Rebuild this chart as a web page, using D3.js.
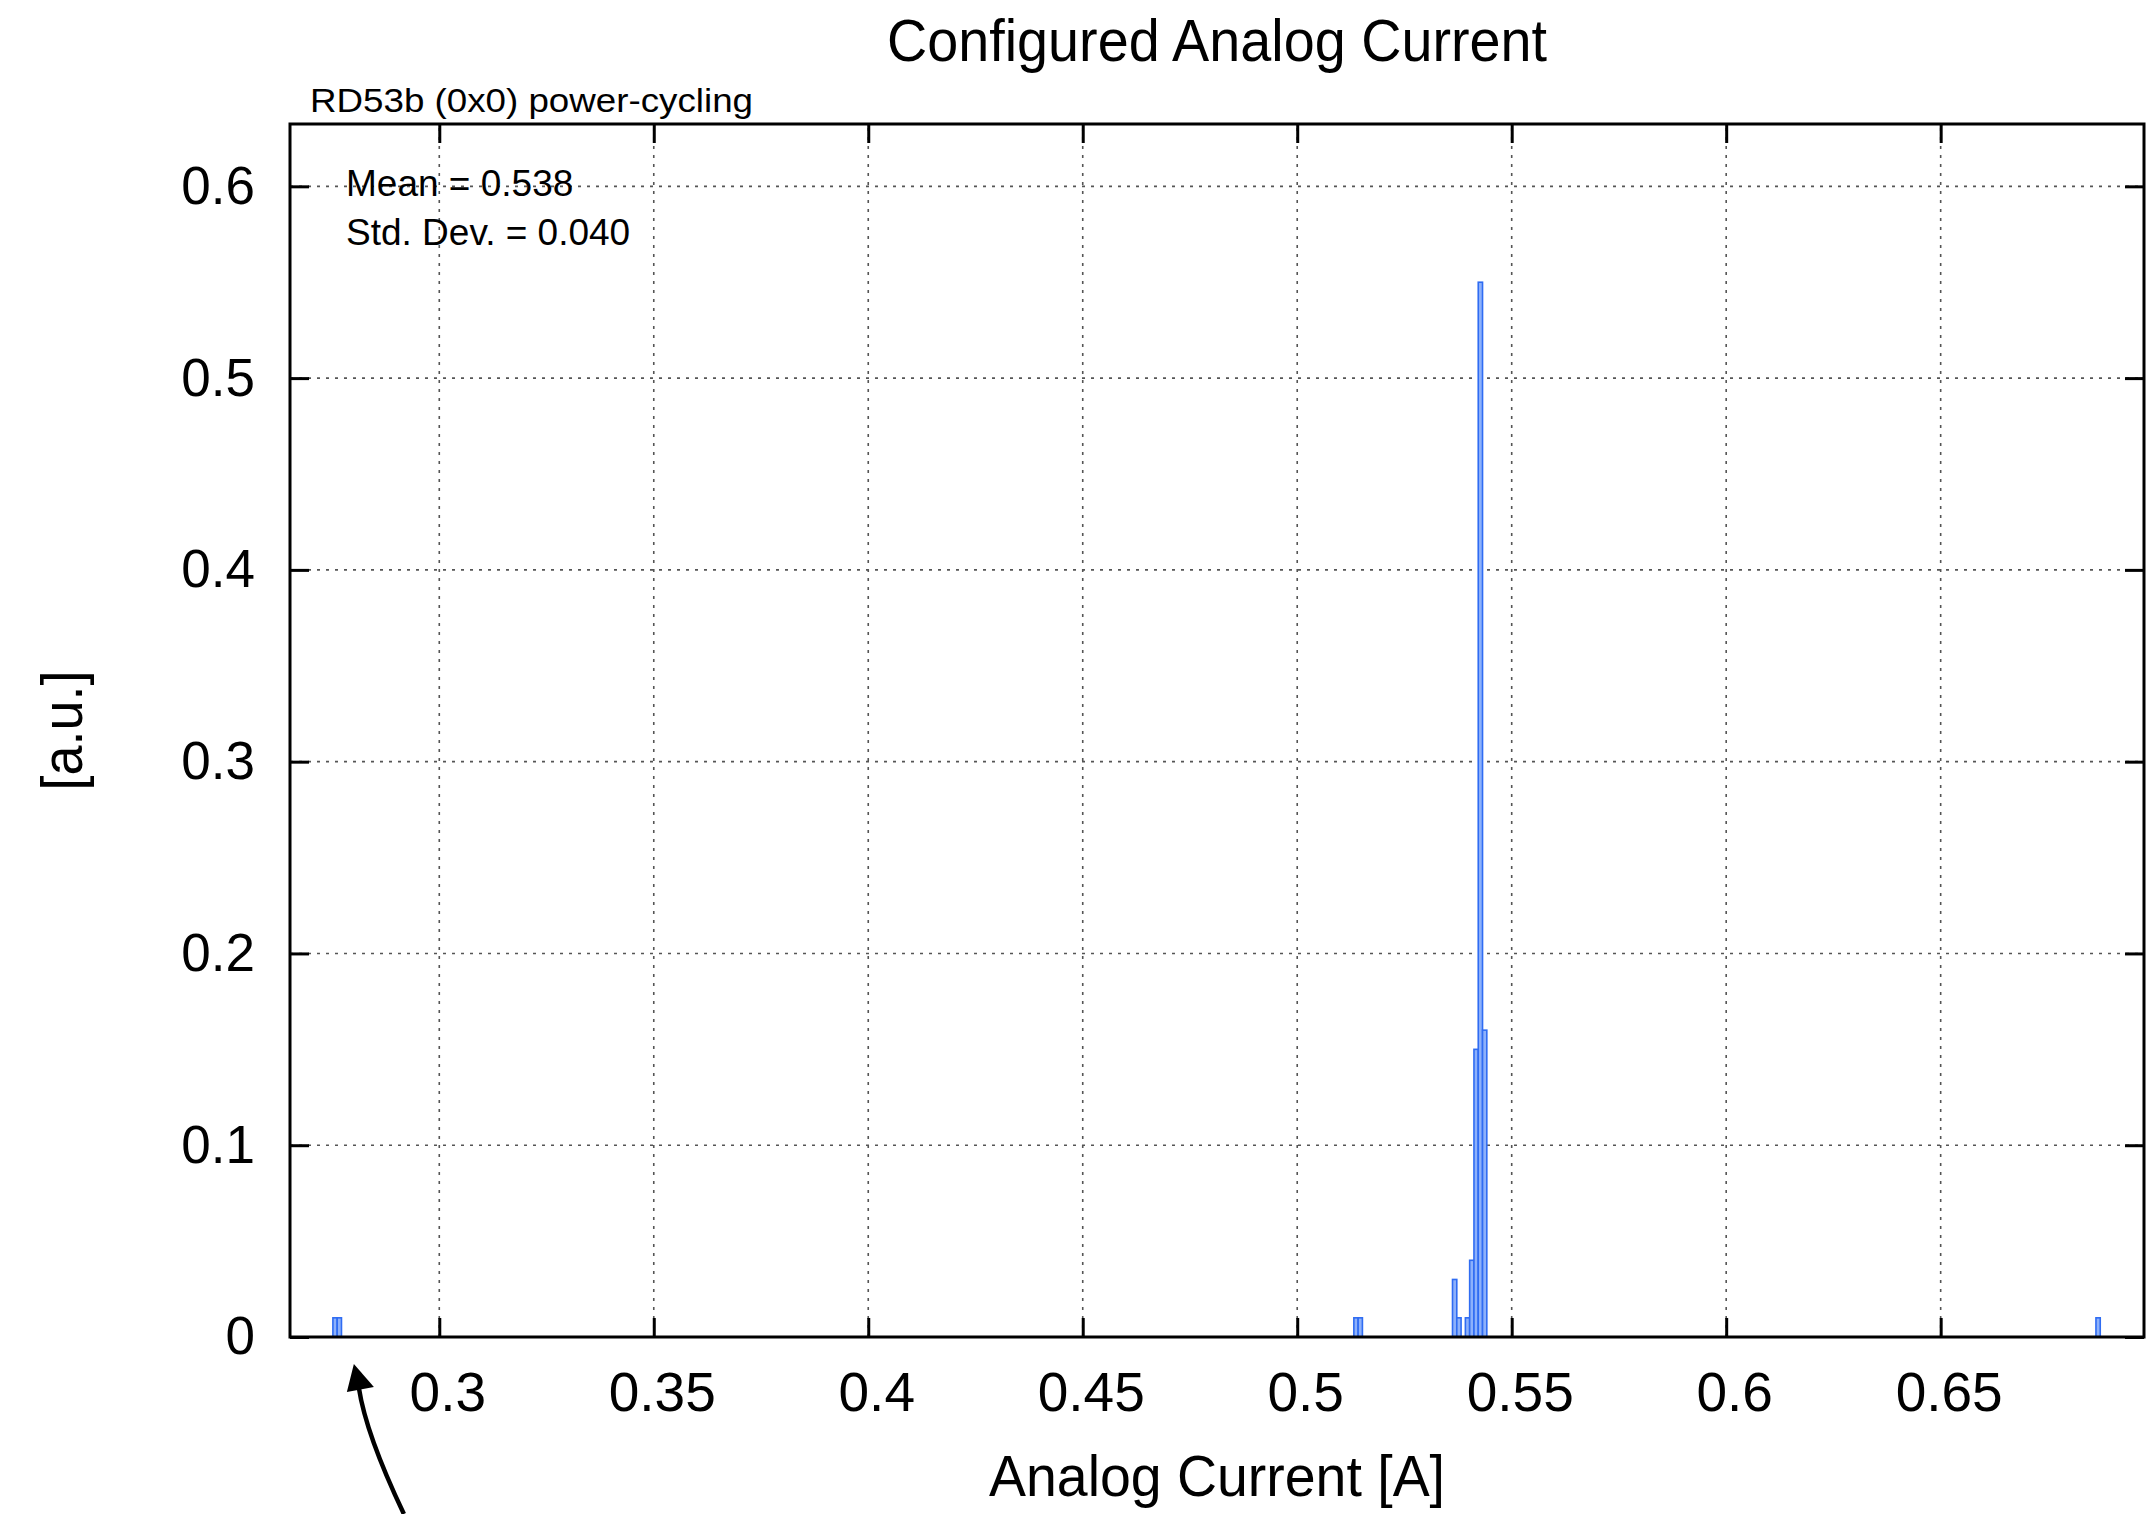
<!DOCTYPE html>
<html lang="en">
<head>
  <meta charset="UTF-8">
  <title>Configured Analog Current</title>
  <style>
    body {
      margin: 0;
      padding: 0;
      background-color: white;
    }
    svg {
      display: block;
      font-family: "Liberation Sans", Arial, Helvetica, sans-serif;
    }
    .grid line {
      stroke: #555;
      stroke-width: 1.6;
      stroke-dasharray: 3, 6;
    }
    .axis path {
      display: none;
    }
    .axis line {
      stroke: black;
      stroke-width: 3;
    }
  </style>
  <script src="https://d3js.org/d3.v7.min.js"></script>
</head>
<body>
  <div id="chart"></div>
  <script>
    // histogram bins (left edge, width 0.001 A) and normalised counts
    const binStarts = [0.2752, 0.2762, 0.5132, 0.5142, 0.5362, 0.5372, 0.5392, 0.5402, 0.5412, 0.5422, 0.5432, 0.6862];
    const binValues = [0.01, 0.01, 0.01, 0.01, 0.03, 0.01, 0.01, 0.04, 0.15, 0.55, 0.16, 0.01];
    const binWidth = 0.001;

    const xTicks = [0.3, 0.35, 0.4, 0.45, 0.5, 0.55, 0.6, 0.65];
    const xTickLabels = ["0.3", "0.35", "0.4", "0.45", "0.5", "0.55", "0.6", "0.65"];
    const yTicks = [0, 0.1, 0.2, 0.3, 0.4, 0.5, 0.6];
    const yTickLabels = ["0", "0.1", "0.2", "0.3", "0.4", "0.5", "0.6"];

    const statLines = ["Mean = 0.538", "Std. Dev. = 0.040"];

    const width = 2146, height = 1514;
    const margin = {left: 290, right: 2, top: 124, bottom: 177};
    const x0 = margin.left, x1 = width - margin.right;
    const y0 = height - margin.bottom, y1 = margin.top;

    const bins = binStarts.map((s, i) => ({start: s, value: binValues[i]}));

    const svg = d3.select("#chart")
      .append("svg")
      .attr("width", width)
      .attr("height", height);

    svg.append("rect")
      .attr("width", width)
      .attr("height", height)
      .attr("fill", "white");

    const xScale = d3.scaleLinear()
      .domain([0.2652, 0.6974])
      .range([x0, x1]);

    const yScale = d3.scaleLinear()
      .domain([0, 0.6325])
      .range([y0, y1]);

    // dotted grid
    const grid = svg.append("g").attr("class", "grid");
    grid.selectAll(".vgrid")
      .data(xTicks)
      .enter()
      .append("line")
      .attr("class", "vgrid")
      .attr("x1", d => xScale(d))
      .attr("x2", d => xScale(d))
      .attr("y1", y0)
      .attr("y2", y1);
    grid.selectAll(".hgrid")
      .data(yTicks.filter(d => d > 0))
      .enter()
      .append("line")
      .attr("class", "hgrid")
      .attr("x1", x0)
      .attr("x2", x1)
      .attr("y1", d => yScale(d))
      .attr("y2", d => yScale(d));

    // bars
    svg.append("g")
      .selectAll("rect")
      .data(bins)
      .enter()
      .append("rect")
      .attr("x", d => xScale(d.start))
      .attr("width", d => xScale(d.start + binWidth) - xScale(d.start))
      .attr("y", d => yScale(d.value))
      .attr("height", d => yScale(0) - yScale(d.value))
      .attr("fill", "#8db1fb")
      .attr("stroke", "#2f6cf2")
      .attr("stroke-width", 1.6);

    // axes with inward ticks on all sides
    const xAxis = svg.append("g")
      .attr("class", "axis")
      .attr("transform", `translate(0, ${y0})`)
      .call(d3.axisBottom(xScale)
        .tickValues(xTicks)
        .tickFormat((d, i) => xTickLabels[i])
        .tickSize(-19)
        .tickPadding(35));
    xAxis.selectAll("text")
      .attr("font-size", 55)
      .attr("font-family", null)
      .attr("dx", 8)
      .attr("fill", "black");

    svg.append("g")
      .attr("class", "axis")
      .attr("transform", `translate(0, ${y1})`)
      .call(d3.axisTop(xScale).tickValues(xTicks).tickSize(-19).tickFormat(""));

    const yAxis = svg.append("g")
      .attr("class", "axis")
      .attr("transform", `translate(${x0}, 0)`)
      .call(d3.axisLeft(yScale)
        .tickValues(yTicks)
        .tickFormat((d, i) => yTickLabels[i])
        .tickSize(-19)
        .tickPadding(35));
    yAxis.selectAll("text")
      .attr("font-size", 53)
      .attr("font-family", null)
      .attr("fill", "black");

    svg.append("g")
      .attr("class", "axis")
      .attr("transform", `translate(${x1}, 0)`)
      .call(d3.axisRight(yScale).tickValues(yTicks).tickSize(-19).tickFormat(""));

    // frame
    svg.append("rect")
      .attr("x", x0)
      .attr("y", y1)
      .attr("width", x1 - x0)
      .attr("height", y0 - y1)
      .attr("fill", "none")
      .attr("stroke", "black")
      .attr("stroke-width", 3);

    // titles
    svg.append("text")
      .attr("x", (x0 + x1) / 2)
      .attr("y", 61)
      .attr("text-anchor", "middle")
      .attr("font-size", 59)
      .attr("textLength", 660)
      .attr("lengthAdjust", "spacingAndGlyphs")
      .text("Configured Analog Current");

    svg.append("text")
      .attr("x", 310)
      .attr("y", 112)
      .attr("font-size", 34)
      .attr("textLength", 443)
      .attr("lengthAdjust", "spacingAndGlyphs")
      .text("RD53b (0x0) power-cycling");

    svg.append("g")
      .selectAll("text")
      .data(statLines)
      .enter()
      .append("text")
      .attr("x", 346)
      .attr("y", (d, i) => 196 + i * 49)
      .attr("font-size", 37)
      .text(d => d);

    svg.append("text")
      .attr("x", (x0 + x1) / 2)
      .attr("y", 1496)
      .attr("text-anchor", "middle")
      .attr("font-size", 58)
      .attr("textLength", 456)
      .attr("lengthAdjust", "spacingAndGlyphs")
      .text("Analog Current [A]");

    svg.append("text")
      .attr("transform", `translate(82, ${(y0 + y1) / 2}) rotate(-90)`)
      .attr("text-anchor", "middle")
      .attr("font-size", 57)
      .attr("textLength", 120)
      .attr("lengthAdjust", "spacingAndGlyphs")
      .text("[a.u.]");

    // arrow pointing at the low outlier bins
    const tipX = xScale(binStarts[0]) + 21, tipY = y0 + 27;
    svg.append("path")
      .attr("d", `M${tipX + 50},${height} Q${tipX + 12},${tipY + 70} ${tipX + 5},${tipY + 24}`)
      .attr("fill", "none")
      .attr("stroke", "black")
      .attr("stroke-width", 4.5);
    svg.append("path")
      .attr("d", `M${tipX},${tipY} L${tipX + 20},${tipY + 23} L${tipX - 7},${tipY + 28} Z`)
      .attr("fill", "black");
  </script>
</body>
</html>
